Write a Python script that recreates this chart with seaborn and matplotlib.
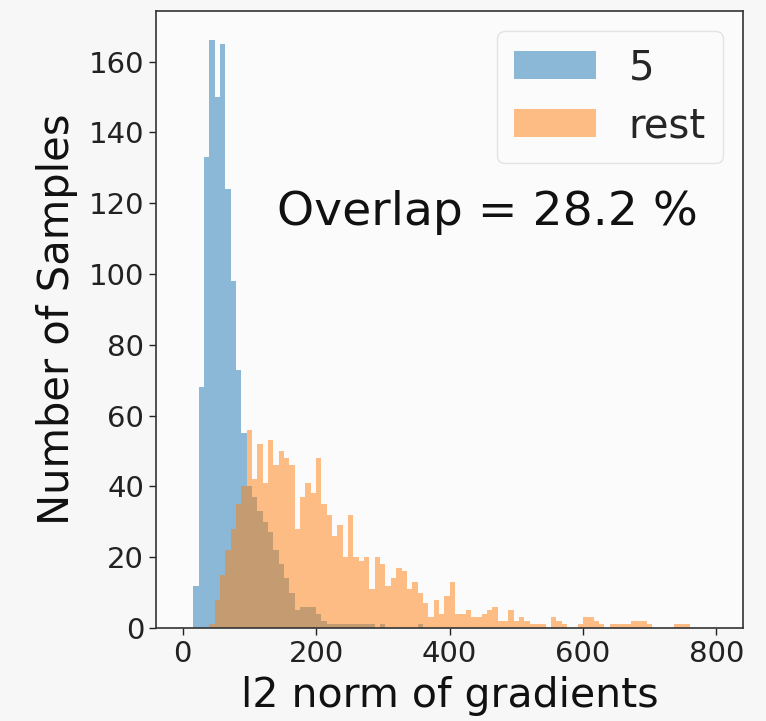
import numpy as np
import pandas as pd
import matplotlib
matplotlib.use("Agg")
import matplotlib.pyplot as plt
import seaborn as sns

# Histogram bins: 100 bins of width 8 spanning 0..800
bin_width = 8
bin_range = (0, 800)

# Counts per bin for the digit "5" samples
counts_five = [
    0, 0, 12, 68, 133, 166, 150, 165, 124, 98,
    73, 55, 40, 37, 33, 30, 27, 22, 18, 14,
    10, 5, 6, 6, 6, 4, 2, 1, 1, 1,
    1, 1, 1, 1, 1, 1, 0, 1, 0, 0,
    0, 0, 0, 0, 1, 0, 0, 0, 0, 0,
    0, 0, 0, 0, 0, 0, 0, 0, 0, 0,
    0, 0, 0, 0, 0, 0, 0, 0, 0, 0,
    0, 0, 0, 0, 0, 0, 0, 0, 0, 0,
    0, 0, 0, 0, 0, 0, 0, 0, 0, 0,
    0, 0, 0, 0, 0, 0, 0, 0, 0, 0,
]

# Counts per bin for all remaining samples
counts_rest = [
    0, 0, 0, 0, 0, 1, 8, 15, 22, 28,
    35, 40, 56, 42, 52, 41, 53, 46, 50, 48,
    46, 28, 37, 41, 38, 48, 35, 32, 26, 29,
    20, 32, 20, 19, 20, 11, 20, 18, 12, 14,
    17, 16, 11, 13, 10, 7, 3, 8, 4, 9,
    13, 4, 4, 5, 3, 3, 4, 5, 6, 2,
    2, 5, 2, 3, 2, 1, 1, 1, 0, 3,
    2, 1, 0, 0, 1, 3, 3, 2, 1, 0,
    1, 1, 1, 1, 2, 2, 2, 1, 0, 0,
    0, 0, 1, 1, 1, 0, 0, 0, 0, 0,
]

series_labels = ["5", "rest"]
overlap_pct = 28.2

x_ticks = [0, 200, 400, 600, 800]
y_ticks = [0, 20, 40, 60, 80, 100, 120, 140, 160]

bin_edges = np.arange(bin_range[0], bin_range[1] + bin_width, bin_width)
bin_centers = (bin_edges[:-1] + bin_edges[1:]) / 2
df = pd.concat([
    pd.DataFrame({"norm": bin_centers, "n": counts_five, "group": series_labels[0]}),
    pd.DataFrame({"norm": bin_centers, "n": counts_rest, "group": series_labels[1]}),
], ignore_index=True)

sns.set_style("ticks")
plt.rcParams["font.family"] = ["DejaVu Sans"]

fig = plt.figure(figsize=(7.66, 7.21), dpi=100, facecolor="#f7f7f7")
ax = fig.add_axes([0.2037, 0.129, 0.7663, 0.8557])
ax.set_facecolor("#fbfbfb")

colors = ["#1f77b4", "#ff7f0e"]
for lab, col in zip(series_labels, colors):
    sub = df[df["group"] == lab].reset_index(drop=True)
    sns.histplot(data=sub, x="norm", weights="n", binwidth=bin_width,
                 binrange=bin_range, ax=ax, color=col, alpha=0.5,
                 linewidth=0, element="bars", label=lab)

ax.set_xlim(-40, 840)
ax.set_ylim(0, 174.3)
ax.set_xticks(x_ticks)
ax.set_yticks(y_ticks)
ax.tick_params(axis="both", labelsize=21, length=5, width=1, color="#222222",
               labelcolor="#222222")
for s in ax.spines.values():
    s.set_color("#333333")
    s.set_linewidth(1.2)

ax.set_xlabel("l2 norm of gradients", fontsize=29.5, color="#111111", labelpad=6)
ax.set_ylabel("Number of Samples", fontsize=30, color="#111111", labelpad=8)

ax.text(0.564, 0.674, f"Overlap = {overlap_pct} %", transform=ax.transAxes,
        ha="center", va="center", fontsize=34, color="#111111")

leg = ax.legend(loc="upper right", fontsize=29, handlelength=2.05,
                handleheight=0.72, labelspacing=0.45, borderpad=0.42,
                frameon=True, fancybox=True)
leg.get_frame().set_edgecolor("#dddddd")
leg.get_frame().set_facecolor("#fbfbfb")

fig.savefig("out.png", dpi=100, facecolor=fig.get_facecolor())
